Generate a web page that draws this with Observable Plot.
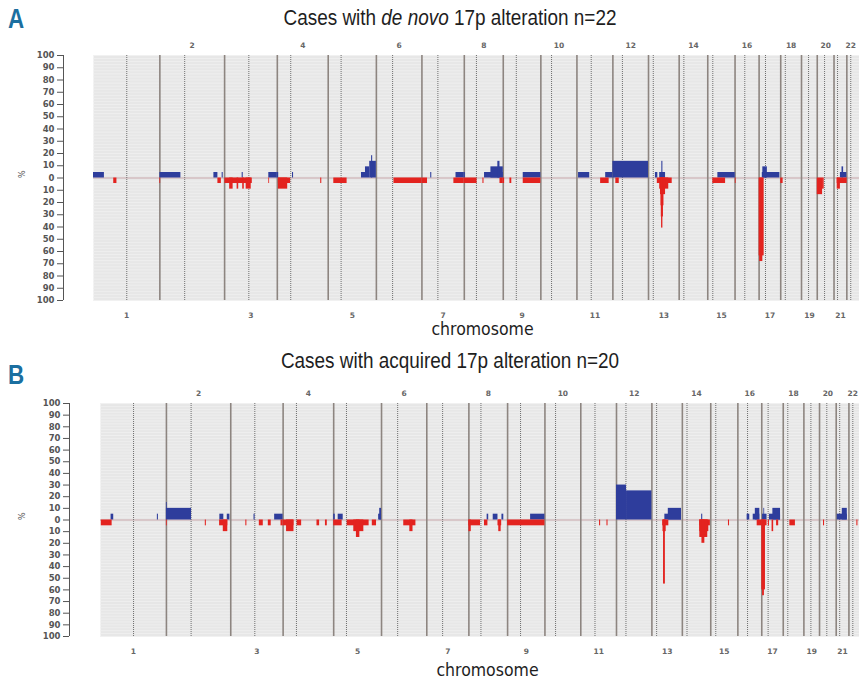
<!DOCTYPE html>
<html>
<head>
<meta charset="utf-8">
<script src="https://cdn.jsdelivr.net/npm/d3@7"></script>
<script src="https://cdn.jsdelivr.net/npm/@observablehq/plot@0.6"></script>
<style>
  html, body { margin: 0; padding: 0; background: #fff; }
  #wrap { position: relative; width: 859px; height: 684px; overflow: hidden; background: #fff; }
  .title { position: absolute; left: 0; width: 900px; text-align: center; font-family: "Liberation Sans", Arial, sans-serif; font-size: 22px; line-height: 22px; color: #1e1e1e; transform: scaleX(0.86); transform-origin: 450px 0; }
  .lab { position: absolute; font-family: "Liberation Sans", Arial, sans-serif; font-weight: bold; font-size: 28px; line-height: 28px; color: #1b6fa0; transform: scaleX(0.8); transform-origin: 0 0; }
  .panel { position: absolute; left: 0; }
</style>
</head>
<body>
<div id="wrap">
  <div class="lab" style="left:8px;top:5px">A</div>
  <div class="title" style="top:7px">Cases with <i>de novo</i> 17p alteration n=22</div>
  <div class="panel" id="pA" style="top:30px"></div>
  <div class="lab" style="left:8px;top:361px">B</div>
  <div class="title" style="top:350px">Cases with acquired 17p alteration n=20</div>
  <div class="panel" id="pB" style="top:378px"></div>
</div>
<script>
// ---- Chromosome layout (Mb) ----
const chromosomes = ["1","2","3","4","5","6","7","8","9","10","11","12","13","14","15","16","17","18","19","20","21","22"];
const chromLengthMb = [249.25,243.20,198.02,191.15,180.92,171.12,159.14,146.36,141.21,135.53,135.01,133.85,115.17,107.35,102.53,90.35,81.20,78.08,59.13,63.03,48.13,51.30];
const centromereMb = [125.0,93.3,91.0,50.4,48.4,61.0,59.9,45.6,49.0,40.2,53.7,35.8,17.9,17.6,19.0,36.6,24.0,17.2,26.5,27.5,13.2,14.7];
const yTicks = [-100,-90,-80,-70,-60,-50,-40,-30,-20,-10,0,10,20,30,40,50,60,70,80,90,100];

// ---- Panel A: de novo (n=22), [chromosome, start Mb, end Mb, % of cases] ----
const gainsA = [
  ["1",0,41,4.5],["2",0,79,4.5],["2",203,218,4.5],["2",234,238,4.5],["3",66,70,4.5],
  ["3",166,198,4.5],["4",0,5,4.5],["4",57,61,4.5],
  ["5",125,140,4.5],["5",140,156,9.1],["5",156,180.9,13.6],["5",163,167,18.2],
  ["7",33,37,4.5],["7",128,159.1,4.5],["8",0,4,4.5],
  ["8",76,146.4,4.5],["8",100,146.4,9.1],["8",126,134,13.6],
  ["9",75,141.2,4.5],["11",6,48,4.5],["11",108,135,4.5],["12",0,133.85,13.6],
  ["13",26,35,4.5],["13",42,64,4.5],["13",50,54,13.6],
  ["15",38,102.5,4.5],["16",0,2,4.5],["17",12,78,4.5],["17",14,31,9.1],
  ["21",24,48.1,4.5],["21",30,36,9.1]
];
const lossesA = [
  ["1",76,88,4.5],["2",0,3,4.5],["2",218,231,4.5],
  ["3",1,104,4.5],["3",19,32,9.1],["3",47,53,9.1],["3",68,74,9.1],["3",81,100,9.1],
  ["3",166,169,4.5],["4",4,50,4.5],["4",4,39,9.1],["4",163,167,4.5],["5",21,71,4.5],
  ["6",66,171.1,4.5],["7",0,21,4.5],["7",120,159.1,4.5],["8",0,48,4.5],["8",70,74,4.5],
  ["8",134,146.4,4.5],["9",0,5,4.5],["9",25,32,4.5],["9",75,141.2,4.5],
  ["11",89,121,4.5],["12",11,24,4.5],
  ["13",33,89,4.5],["13",42,76,9.1],["13",45,64,13.6],["13",47,58,22.7],["13",48,56,31.8],["13",49,54,40.9],
  ["15",19,67,4.5],["16",1,4,4.5],["17",0,19,63.6],["17",2,14,68.2],["18",0,9,4.5],
  ["20",0,20,13.6],["20",20,26,9.1],["21",12,48.1,4.5],["21",12,24,9.1],["22",0,2,4.5]
];

// ---- Panel B: acquired (n=20) ----
const gainsB = [
  ["1",40,50,5],["1",215,219,5],["2",0,95,10],["2",0,3,15],["2",202,217,5],["2",230,240,5],
  ["3",88,92,5],["3",166,198,5],["5",0,6,5],["5",17,36,5],["5",170,180.9,5],["5",174,180.9,10],
  ["8",69,75,5],["8",92,110,5],["8",125,132,5],["9",87,141.2,5],
  ["12",0,38,30],["12",38,133.85,25],["13",49,112,5],["13",62,112,10],["14",73,77,5],
  ["16",35,45,5],["16",58,83,5],["16",66,83,10],["17",3,20,5],["17",8,11,10],
  ["17",29,71,5],["17",42,71,10],["21",4,42,5],["21",23,42,10]
];
const lossesB = [
  ["1",3,44,5],["2",0,3,5],["2",147,151,5],["2",201,232,5],["2",215,232,10],
  ["3",57,61,5],["3",108,123,5],["3",142,153,5],["3",190,198,5],
  ["4",0,41,5],["4",13,41,10],["4",53,70,5],["4",128,138,5],["4",160,167,5],
  ["5",0,32,5],["5",51,134,5],["5",76,114,10],["5",86,99,15],["5",146,162,5],
  ["6",84,130,5],["6",107,119,10],["8",0,44,5],["8",0,9,10],["8",59,72,5],
  ["8",110,124,5],["8",113,122,10],["9",0,141.2,5],["11",71,75,5],["11",99,103,5],
  ["13",41,64,5],["13",42,54,10],["13",44,51,55],
  ["14",66,106,5],["14",66,100,10],["14",66,96,15],["14",74,85,20],["15",67,71,5],
  ["16",73,90.35,5],["17",0,20,5],["17",0,14,60],["17",3,10,65],["17",25,29,5],
  ["17",39,45,10],["17",56,64,5],["18",25,46,5],["20",15,19,5],["22",30,34,5]
];

// ---- derived layout ----
const cumStart = {};
let acc = 0;
chromosomes.forEach((c, i) => { cumStart[c] = acc; acc += chromLengthMb[i]; });
const genomeLen = acc;
const boundaries = chromosomes.slice(1).map(c => cumStart[c]);
const centromeres = chromosomes.map((c, i) => cumStart[c] + centromereMb[i]);
const centers = chromosomes.map((c, i) => ({c, x: cumStart[c] + chromLengthMb[i] / 2, even: (i + 1) % 2 === 0}));

function rows(arr, sign) {
  return arr.map(([c, s, e, p]) => ({x1: cumStart[c] + s, x2: cumStart[c] + e, y1: 0, y2: sign * p}));
}

function panel(o) {
  const labelStyle = {fontSize: 7.5, fontWeight: "bold", fill: "#666"};
  return Plot.plot({
    width: 859,
    height: o.height,
    marginLeft: o.marginLeft,
    marginRight: 0,
    marginTop: o.marginTop,
    marginBottom: o.marginBottom,
    x: {domain: [0, genomeLen], range: [o.marginLeft, o.rangeEnd], axis: null},
    y: {domain: [-100, 100], axis: null},
    style: {fontFamily: "DejaVu Sans", background: "transparent", overflow: "visible"},
    marks: [
      Plot.frame({fill: "#e7e7e7", stroke: "none"}),
      Plot.ruleY(d3.range(-100, 100.01, 2.5), {stroke: "#f0f0f0", strokeWidth: 0.8}),
      Plot.ruleY([0], {stroke: "#c6a4a8", strokeWidth: 1}),
      Plot.ruleX(boundaries, {stroke: "#8d8580", strokeWidth: 1.6}),
      Plot.ruleX(centromeres, {stroke: "#6e6e6e", strokeWidth: 1, strokeDasharray: "1,1"}),
      Plot.rect(rows(o.gains, 1), {x1: "x1", x2: "x2", y1: "y1", y2: "y2", fill: "#2e3d9c"}),
      Plot.rect(rows(o.losses, -1), {x1: "x1", x2: "x2", y1: "y1", y2: "y2", fill: "#e3231f"}),
      Plot.axisY({ticks: yTicks, tickFormat: d => Math.abs(d), dx: o.axisDx, tickSize: 6, tickPadding: 3,
                  fontSize: 8.5, fontWeight: "bold", color: "#555", label: null}),
      Plot.ruleX([0], {dx: o.axisDx, stroke: "#555", strokeWidth: 1}),
      Plot.text(["%"], {frameAnchor: "left", dx: 22 - o.marginLeft, rotate: -90, fontSize: 8, fill: "#555"}),
      Plot.text(centers.filter(d => d.even && d.c !== "22"), {x: "x", text: "c", frameAnchor: "top", dy: o.topDy, ...labelStyle}),
      Plot.text(centers.filter(d => d.c === "22"), {x: "x", text: "c", frameAnchor: "top", dy: o.topDy, dx: -3, ...labelStyle}),
      Plot.text(centers.filter(d => !d.even), {x: "x", text: "c", frameAnchor: "bottom", dy: o.botDy, ...labelStyle}),
      Plot.text(["chromosome"], {frameAnchor: "bottom", dy: o.chromDy, dx: o.chromDx, fontSize: 17.5,
                  fontFamily: "DejaVu Sans Condensed, Liberation Sans, sans-serif", fill: "#1e1e1e"})
    ]
  });
}

document.getElementById("pA").appendChild(panel({
  gains: gainsA, losses: lossesA, height: 315, marginLeft: 93, rangeEnd: 860,
  marginTop: 25, marginBottom: 45, axisDx: -30, topDy: -13, botDy: 17, chromDy: 34, chromDx: 6
}));
document.getElementById("pB").appendChild(panel({
  gains: gainsB, losses: lossesB, height: 306, marginLeft: 100, rangeEnd: 862,
  marginTop: 25, marginBottom: 48, axisDx: -31, topDy: -13, botDy: 17, chromDy: 39, chromDx: 7.5
}));
</script>
</body>
</html>
